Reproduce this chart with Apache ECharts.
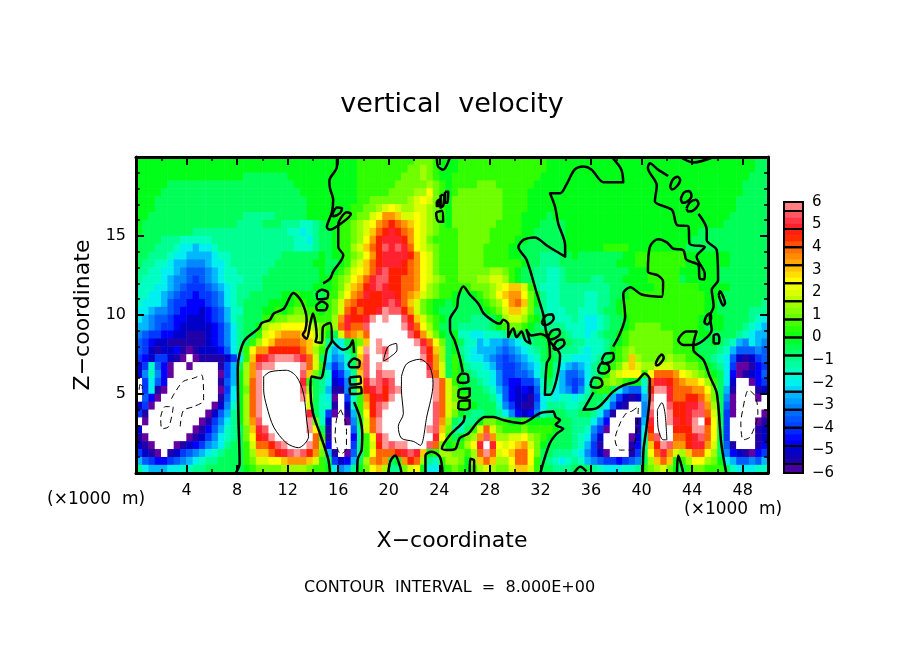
<!DOCTYPE html>
<html><head><meta charset="utf-8">
<style>html,body{margin:0;padding:0;background:#fff}#c{width:904px;height:654px}</style>
<script src="https://cdn.jsdelivr.net/npm/echarts@6/dist/echarts.min.js"></script>
</head><body><div id="c"></div>
<script>
// Field values, coded per cell (0.5 x 0.5 km), top row first.
// m..a = -7(white),-6,-5.5 ... -0.5 ; 0 ; A..M = 0.5 ... 6, 7(white)
const fieldRows = [
"0000000000 0000000000 0000000000 00000AAAAA AAAABBBA00 0AAAAAAAAA AAAAA00000 0000000000 0000000000 00000000aa",
"0000000000 0000000000 0000000000 00000AAAAA AAABBCBA00 0AAAAAAAAA AAAAA00000 0000000000 0000000000 00000000aa",
"0000000000 0000000aaa aaaa000000 00000AAAAA AABBBCBA00 AAAAAAAAAA AAAA000000 0000000000 0000000000 0000000aaa",
"00000aaaaa aaaaaaaaaa aaaaa00000 00000AAAAA ABBBBBCBA0 AAAABBBAAA AAA0000000 0000000000 0000000000 000000aaaa",
"0000aaaaaa aaaaaaaaaa aaaaaa0000 00000AAAAA BBBBCCEBA0 ABBBBBBBAA AA00000000 0000000000 0000000000 000000aaaa",
"000aaaaaaa aaaaaaaaaa aaaaaaa000 00000AABBB BBBCDEDBA0 BBBBBBBBAA AA00000000 0000000000 0000000000 00000aaaaa",
"000aaaaaaa aaaaaaaaaa aaaaaaa000 0000AABBCD EDCCDDCBA0 BBBBBBBBAA AA00000000 0000000000 0000000000 00000aaaaa",
"00aaaaaaaa aaaaaaabbb bbaaaaa000 00AAABBDEG GFDDEDCBA0 BBBBBBBBAA A0000a0000 0000000000 0000000000 0000aaaaaa",
"0aaaaaaaaa aaaaaabbbb aaabbbccba 00AABCDEGH IHGFEDCBA0 BBBBBBBAAA A000aaaa00 0000000000 0000000000 000aaaaaaa",
"0aaaaaaaab bbbbbbbbbb bbbbccdcba a0AABCDFHI JIHGEDCBAA ABBBBBAAAA A00aaaaa00 0000000000 000000000a aaaaaaaaaa",
"aaaabbbccc ccbbbbbbbb bbbbbccdba a0AABCEGIJ JJIGEDBAAA ABBBBBAAAA 00aaaaaa00 0000000000 00000000aa aaaaaaaaaa",
"aaabbbcdde ddcbbbbbbb bbbbbcccba a0AACDFHIK JKJHEDCBAA ABBBBAAAA0 0aaaaaaa00 0000AAAA00 0000000aaa aaaaaaaaaa",
"aabbbcddee eedccbbbbb bbbaaaaaa0 a00ABCEGIJ JJJIGEDBAA ABBBBAAAA0 0aaabbbaa0 aaaaaaa00A AAAAAAA000 0000aaaaaa",
"abbccdeeff feddcbbbbb bbaaaaaa00 aa0ACDFHIJ JJIHGEDBAA ABBBBAAAAA A0aabbbaaa aaaaaa000A AAAAAAA000 0000aaaaaa",
"bbccddefgg gfedccbbbb baaaaaaaa0 a0ABDEFHJK IIIHGEDBAA ABBBBBCCBA 0aabbccbaa aaaaaaaa00 0AAAAA0000 00aaaaaaaa",
"bcccdeffgh gfedcccbbb aaaaaaaaa0 0ABCEFHJKK IIHHGEDCBA ABBBCCDDCA 0aabbccbaa aabbaaa000 0AAAAAa000 00aaaaaaaa",
"cccddefghh hgfedcbbbb aaaaaaaa00 0ABDFGIJKJ IIHHGECBAA AAABBBCDEF FDAbcccbbb bbbbbaaa00 00AAAAAAA0 0000aaaaaa",
"ccddefghhi hhgfdcbbaa aaa00A00aa AACEGHJIIJ JIHGFDCBAA 0aa0ABCEFG GEB0bccbbb bccbbaa0AA AAAAAAAAAA 000aaaaaaa",
"cdddeghhii ihgfdcbaaa a0000AA000 ABDGHIIIIJ KJHFDBA00a 0aaa0ABCEG HFB0bccbbb bccbba0AAA AAAAAAAAAA 00aaaaaaab",
"ddeffghiii jihgeccaaa 00A0ABBAA0 ABDHIHIIJL KKIGDBA0aa aaaaa0ABDF FDBabcccbb cccbaa0AAA AAAAAAAAAA 00aaaaabbb",
"defgghiijj jihgecbaaa AABBCCCBAA ACGJIIJLML MMKIFDBA0a aaabbba0CD DCA0abcccb cddcbaa0AA AAAAAAAAA0 000aaaabcd",
"eefghhijjj jjihfdbaa0 CDDEEEEDCB ACHJHHKMMM MMLJHECAaa abbbbba0AB BA0abbbbcc cddcbaa0AB BBBAAAAAA0 a00aaabcde",
"fghhiijjkk kjihfdbaaA DEFGGGFEDB 0aDHGFHMMM MMMKIGDB0a 0ccddcccba aaaa00aabc cdcbaa0ABB BBBBBAAAA0 0aaaabcdee",
"ghijjkkkkk kjihfdbaAC EFHHHHGFDB bcdaABFMLM MMMMLJHEBa 0accedeefe dcbaa0aaab bcccba0ABB BBBBBAAA0a a0abcefdef",
"ghjkjjiklk jjjigdbAEG GIIIIIHFCA cedb0ELMLK MMMMMKIFCa 0bcdeeefgf edcba0abbb cdccb0ABCB BBBBBAAA0a aabcegggfg",
"hijhhjklMl kkkkjhdAFI JKLLLKJHDa dfecaFKMML MMMMMLIGCa Aacddefghg fedca0accd ddcba0ABFC BBBBCBBAA0 abcdgjkjhg",
"jhcgilMMlM MMMkheaCGK LLMMMMLHDA ehfdaGKMLM MMMMMMJGDa A0bccdeghh gfedb0bdef edba0ABDFD CCDDDCCBBA 0abdhllkih",
"jfcfilMMMM MMMlhe0CGL MMMMMMKFBa cihebFKMKL LMMMMMKHDa A0abccdfhh ggfdb0begg fdbaACDEEE AEHHHGEDCB A0adilkjig",
"MhdgiMMMMM MMMkge0CHL MMMMMMJAab djifbEJLKJ KMMMMMMLHD A0aabcdfhi ihhfcacegh gdaABCBA00 cHJJIHGFFE CAadjMMlih",
"MhdklMMMMM MMMlhd0BHL MMMMMMKCab ekkfbCIJKI KLMMMMMLHD B00aabcegi jijgcbdefh fc0AAadfgg dILLJHHHGG EBaekMMMkj",
"MgilMMMMMM MMMkgd0CHL MMMMMMLEac dlMhcAGIJI LMMMMMMLHD BAAaaabdgi jjkhdcdccd cbaabehjkj eKMMJHHIIH FBaflMMMlM",
"jhlMMMMMMM MMljfc0CHL MMMMMMMDac ckMjcAFIKL MMMMMMMKHD CAA0aaacfh jkkgdbbbcc baabdgjkMM fLMMKIIJJK GCaglMMMMM",
"hkMMMMMMMM Mljgeb0CHL MMMMMMMJac hlMkeAEIKM MMMMMMMKHD B0abbaabdf ijifcbaabb aabdgkMMMM fKMMLIIJKK HDahlMMMMl",
"MlMMMMMMMM lkhfdb0CGK MMMMMMMLBc jMMlfaDHLM MMMMMMMKGC abbb0BBAA0 0A00000aab bbdfiMMMMk eJMMLJIJLM IEahMMMMlk",
"jMMMMMMMMl kigecbaBFJ KMMMMMMLEa kMMMgbDHLM MMMMMMLKFB bcaADHDBAA ABAAAA0aab bcfhlMMMMk dIMMMIIILL HEahMMMMkj",
"klMMMMMMlk jhfdcbaBEI JLMMMMMMHA kMMMibAEJL MMMMMMMJEA a0BCGKGCCD DECBA0aaab cdgjMMMMlj cHKMMHHIJK HEahMMMMkj",
"jklMMMlkji hfedbaaADH HIKLMMMLHC iMMMhbADIL KLLMMMKHB0 AACEJMJEDE FGDB0aaaab cehkMMMMki bFILKGGIJJ GDagkMMMki",
"hjklMkjhgf edcbaaaACF FHIJKLKIGB ekMlgbAEHH HIJKJF0ACC BBACHLHDEF HHEBaabbbc dfhjlMMMkh aEHJGDCFHH ECafijklih",
"eghiihgfed cbbaaaaABD DEEFGGGFDA ahjieaCGHG a0GIHCbcAC CB0CFHFCCE HHEAabcdcb cefghhihgf aCFHF0ACEE CB0deggfge",
"bdeeeddccb baaaaaa0AB BBBCCCCBAA 0dfeb0BEFC bbBDE0dd0A BA0ACDCBBD FFDAaabbba aabcdddccb ABCDB0aABB AAAacdddcc"
];
const cellCodes = "lkjihgfedcba0ABCDEFGHIJKL"; // -6 ... 6 in half units
const colorStops = ["#ffffff","#ffffff","#6400a0","#2000a8","#0000c8","#0000ff","#0038ff","#005cff","#0088ff","#00b8ff","#00f0f0","#00ffc0","#00ff90","#00ff58","#00ff18","#30ff00","#70ff00","#a0ff00","#d8ff00","#ffff00","#ffc800","#ff9600","#ff6400","#ff1e00","#ff2030","#ff5a64","#ff9696","#ffffff","#ffffff"];
const colorbarEdges = [-6,-5.6,-4.8,-4,-3.2,-2.4,-1.6,-0.8,0,0.8,1.6,2.4,3.2,4,4.8,5.6,6];
const xTickLabels = [4,8,12,16,20,24,28,32,36,40,44,48];
const zTickLabels = [5,10,15];

// Zero contour (x km, z km)
const zeroContours = [
[[15.9,20],[15.9,19.4],[15.3,18.5],[15.35,18],[15.6,17.3],[15.5,16.5],[15.1,15.55],[15.35,15.4],[16.4,15.9],[17,16.4],[16.7,16.5],[16,15.7],[16,14.3],[16.4,13.8],[15.6,12.75],[15.35,12.3],[14.8,12]],
[[15.5,16.3],[15.9,16.8],[16.3,16.75],[16.15,16.45],[15.6,16.25],[15.5,16.3]],
[[14.3,11.4],[14.7,11.6],[15.2,11.4],[15.1,11.05],[14.4,11],[14.3,11.4]],
[[14.25,10.6],[14.7,10.85],[15.15,10.6],[14.95,10.3],[14.35,10.3],[14.25,10.6]],
[[7.9,0],[8.2,0.6],[8.1,3.6],[8.05,6.7],[8.2,7.55],[8.6,8.4],[9.7,9.15],[9.95,9.5],[10.6,9.7],[10.9,10.1],[11.7,10.4],[12.45,11.4],[13.1,10.85],[13.5,9.7],[13.4,9.05],[13.2,8.75],[13.5,8.5],[13.8,9.5],[14,10.1],[14.2,9.5],[14.3,8.65],[14.2,8.3],[14.7,8.25],[14.8,9.25],[15.35,9.5],[15.5,8.4],[15.1,7.8],[14.95,7.05],[14.6,6],[13.9,6.1],[13.8,5.25],[14,3.8],[14.55,2.5],[15.2,0.9],[15.35,0]],
[[15.5,8.4],[16.4,7.8],[16.9,8],[17.15,8.4],[17.25,7.6]],
[[16.8,6.9],[17.25,7.25],[17.7,7.05],[17.6,6.7],[16.95,6.7],[16.8,6.9]],
[[16.9,6.05],[17.7,6.1],[17.8,5.7],[16.95,5.6],[16.9,6.05]],
[[16.9,5.4],[17.8,5.45],[17.85,5.05],[16.95,5],[16.9,5.4]],
[[17.25,4.5],[17.7,3.55],[17.9,2.5],[17.85,1.45],[17.55,0.9],[17.5,0]],
[[19.95,0],[20.15,0.8],[20.5,1.1],[20.9,0.4],[21,0]],
[[22.9,0],[22.9,1.1],[23.4,1.35],[24.05,1],[24.25,0]],
[[26,3.65],[25.9,3.25],[24.84,2.4],[24.2,1.55],[24.84,1.45],[25.3,1.55],[25.6,2.2],[26.3,2.5],[26.95,3.15],[27.6,3.55],[28.3,3.55],[29.05,3.35],[30.5,3.15],[32,3.8],[33,3.9],[33.2,3.55],[33.55,3.35],[33.2,3.05],[33.8,2.8],[33.3,2.5],[32.75,1.9],[32.2,0.6],[32,0]],
[[26.4,0],[26.45,0.9],[26.75,0.8],[26.75,0]],
[[34.65,0],[35.15,0.4],[35.65,0.1]],
[[23.8,20],[23.9,19.4],[24.3,19.2],[24.85,20]],
[[23.8,17.2],[24,17.3],[24,16.9],[23.8,16.9],[23.8,17.2]],
[[24.1,17.6],[24.4,17.6],[24.3,16.9],[24.1,16.8],[24.1,17.6]],
[[24.45,17.8],[24.7,17.8],[24.65,17.1],[24.45,17.1],[24.45,17.8]],
[[23.75,16.5],[24.2,16.6],[24.3,15.9],[24,15.9],[23.8,16.1],[23.75,16.5]],
[[25.85,6.4],[25.6,7.35],[25.2,8.4],[24.85,9],[24.84,9.7],[25.4,10.5],[25.5,11.15],[25.9,11.8],[26.4,11.3],[27.1,10.7],[27.5,10.1],[28.3,9.6],[28.8,9.45],[29.05,9.7],[29.45,9.4],[29.45,8.6],[29.85,9.15],[30.1,8.6],[30.5,8.95],[30.8,8.4],[31.2,8.2],[30.9,9.05],[31.3,8.7],[32,8.8],[32.6,8.5],[32.75,7.35],[32.5,6.95],[32.35,4.95],[32.75,4.95],[33.55,7.45],[32.6,8.5],[32.2,10.1],[31.7,11.4],[30.9,13.5],[30.25,14.3],[30.65,14.75],[31.55,14.9],[32.5,14.4],[33.3,14],[33.95,13.7],[33.95,14.4],[33.4,15.8],[33.15,16.85],[32.75,17.7],[33.55,17.7],[34.05,18.25],[34.7,19.2],[35.4,19.4],[36.05,19.2],[37,18.4],[38.55,18.4],[38.4,19.2],[37.75,19.9]],
[[32.1,9.5],[32.4,9.95],[32.9,10.05],[33.05,9.8],[32.7,9.45],[32.3,9.35],[32.1,9.5]],
[[32.6,8.6],[32.9,9],[33.4,9.1],[33.55,8.85],[33.2,8.55],[32.8,8.45],[32.6,8.6]],
[[33,7.95],[33.3,8.35],[33.75,8.45],[33.9,8.2],[33.55,7.9],[33.15,7.8],[33,7.95]],
[[25.45,6],[25.8,6.3],[26.25,6.2],[26.3,5.8],[25.9,5.7],[25.5,5.75],[25.45,6]],
[[25.5,4.8],[25.55,5.25],[26.4,5.35],[26.4,4.9],[26,4.75],[25.5,4.8]],
[[25.5,4.05],[25.55,4.5],[26.4,4.6],[26.4,4.15],[26,4],[25.5,4.05]],
[[36.85,7.15],[37.15,7.55],[37.7,7.6],[37.8,7.3],[37.45,7],[37,6.95],[36.85,7.15]],
[[36.55,6.55],[36.85,6.95],[37.35,6.85],[37.45,6.55],[37.05,6.3],[36.65,6.35],[36.55,6.55]],
[[35.95,5.65],[36.25,6.05],[36.75,5.95],[36.9,5.6],[36.5,5.4],[36.05,5.45],[35.95,5.65]],
[[36.2,5.1],[35.4,4],[36.45,4.1],[37.75,5.15],[38.55,5.55],[39.6,5.8],[40.25,6.3],[40.65,5.9],[40.65,5.05],[40.4,2.95],[40.15,1.45],[40.1,0]],
[[37.75,8],[38.3,8.85],[38.7,9.9],[38.55,11.35],[39.1,11.75],[40,11.3],[41.6,11.15],[41.7,12.1],[41.3,12.5],[40.5,12.75],[40.65,14.3],[41.3,14.8],[42,14.6],[42.5,14.2],[43.3,14.1],[43.55,13.5],[44.5,13.15],[44.6,12.3],[44.95,12.25],[45,12.6],[44.35,13.7],[45,14.3],[43.8,14.5],[43.7,15.6],[42.8,15.7],[42.4,16.65],[41.05,17.2],[41.2,18.2],[40.5,19.3],[40.65,19.6],[41.3,19.2],[42.1,18.8]],
[[42.25,18.1],[42.45,18.55],[42.85,18.75],[43.05,18.55],[42.8,18.15],[42.4,17.95],[42.25,18.1]],
[[43.1,17.35],[43.35,17.75],[43.75,17.85],[43.95,17.55],[43.65,17.2],[43.25,17.1],[43.1,17.35]],
[[43.55,16.75],[43.85,17.15],[44.3,17.3],[44.5,17.05],[44.15,16.65],[43.7,16.55],[43.55,16.75]],
[[44.5,16.4],[45.15,15.4],[45.15,14.75],[45.95,14.1],[46.05,12.2],[45.55,11.6],[45.7,10.55],[45.4,9.9],[45.55,9.05],[44.9,8.4],[44.1,8.1],[43.3,8.1],[42.9,8.4],[43.55,8.95],[44.35,8.95],[44.1,8.1],[44.1,7.8],[44.9,7.15],[45.4,6.1],[45.95,5.05],[46.3,1.9],[46.7,0]],
[[46.1,11.25],[46.2,11.5],[46.35,11.35],[46.6,10.75],[46.45,10.6],[46.25,10.9],[46.1,11.25]],
[[44.95,9.5],[45.1,9.9],[45.4,10.1],[45.5,9.8],[45.2,9.4],[44.95,9.5]],
[[45.7,8.2],[45.7,8.7],[46,8.8],[46.15,8.5],[46.1,8.2],[45.7,8.2]],
[[41.1,6.9],[41.3,7.25],[41.6,7.5],[41.75,7.3],[41.5,6.95],[41.2,6.8],[41.1,6.9]],
[[43.05,20],[44.1,19.65],[45.7,20]],
[[42.8,0],[42.9,1.1],[43.3,0]]
];
// +8 contours
const positiveContours = [
[[10.1,6.1],[10.6,6.4],[11.9,6.5],[12.7,6.1],[13.25,5.05],[13.5,3.35],[13.65,2.3],[12.85,1.6],[11.9,1.9],[10.9,2.9],[10.35,4.2],[10.1,5.25],[10.1,6.1]],
[[21,6.1],[21.4,6.9],[22.45,7.2],[23.25,6.7],[23.5,5.65],[23,3.55],[22.5,1.75],[21.95,2],[21,2.2],[20.75,2.95],[21.15,3.75],[21,5.25],[21,6.1]],
[[19.6,7.2],[19.95,8],[20.6,8.2],[20.65,7.8],[19.95,7.25],[19.6,7.1],[19.6,7.2]],
[[41.25,4],[41.6,4.45],[41.85,3.8],[42,2.1],[41.7,2.1],[41.3,2.9],[41.25,4]]
];
// -8 contours
const negativeContours = [
[[1.95,3.55],[2.3,4.2],[2.95,4.2],[2.6,2.95],[2.05,2.8],[1.95,3.55]],
[[2.8,4.7],[3.2,5.25],[3.75,5.8],[4.55,6],[5.2,6.2],[5.35,4.6],[4.55,4.2],[3.75,3.95],[3.5,2.95]],
[[0.3,5.6],[0.5,5.5],[0.45,5.2],[0.25,5.3],[0.3,5.6]],
[[16.2,4],[16.65,2.9],[16.65,1.55],[16.2,1.2],[15.75,2.3],[15.9,3.55],[16.2,4]],
[[39.2,3.9],[39.75,4.2],[39.6,2.7],[39.2,1.45],[38.3,1.45],[37.9,2.1],[38.3,3.15],[38.8,3.8],[39.2,3.9]],
[[48.05,4.2],[48.45,5.25],[49,4.85],[49.2,3.8],[48.6,2.3],[48.05,2.1],[47.85,3.15],[48.05,4.2]]
];

const rows = fieldRows.map(r => r.replace(/ /g,''));
const nRows = rows.length, nCols = 100;
const cells = [];
rows.forEach((r,ri) => { for (let i=0;i<nCols;i++){ const ch=r[i]||'0'; const v = ch==='m'?-7 : ch==='M'?7 : (cellCodes.indexOf(ch)-12)/2; cells.push([i,nRows-1-ri,v]); } });

function mix(v){ const p=(v+7)*2, i=Math.floor(p), t=p-i; const h=s=>[1,3,5].map(k=>parseInt(s.substr(k,2),16));
  const a=h(colorStops[i]), b=h(colorStops[Math.min(i+1,28)]); return 'rgb('+a.map((c,k)=>Math.round(c+(b[k]-c)*t)).join(',')+')'; }
const barShades=[];
for(let e=0;e<colorbarEdges.length-1;e++){ const lo=colorbarEdges[e],hi=colorbarEdges[e+1],n=hi-lo<0.5?1:3;
  for(let s=0;s<n;s++){ const a=lo+(hi-lo)*s/n,b=lo+(hi-lo)*(s+1)/n; barShades.push([a,b,mix((a+b)/2)]); } }
const barSegs=colorbarEdges.slice(0,-1).map((v,i)=>[v,colorbarEdges[i+1]]);

const FONT='"DejaVu Sans"';
const lineSeries=(list,width,type)=>list.map(d=>({type:'line',xAxisIndex:1,yAxisIndex:1,data:d,symbol:'none',smooth:0.3,silent:true,animation:false,z:5,
  lineStyle:{color:'#000',width:width,type:type,join:'round'}}));
const frame={lineStyle:{color:'#000',width:3}};
const tick={show:true,inside:true,length:8,lineStyle:{color:'#000',width:2}};
const minor=n=>({show:true,splitNumber:n,length:4,lineStyle:{color:'#000',width:1.5}});
const chart=echarts.init(document.getElementById('c'),null,{renderer:'canvas'});
chart.setOption({
  backgroundColor:'#fff',animation:false,
  title:{text:'vertical  velocity',left:447,top:86,textAlign:'center',textStyle:{fontFamily:FONT,fontWeight:'normal',fontSize:27,color:'#000'}},
  grid:[{left:136,top:157,width:632,height:316},{left:784,top:202,width:19,height:271}],
  visualMap:{show:false,type:'continuous',min:-7,max:7,dimension:2,seriesIndex:0,inRange:{color:colorStops}},
  xAxis:[
    {type:'category',gridIndex:0,show:false,data:Array.from({length:nCols},(_,i)=>i)},
    {type:'value',gridIndex:0,min:0,max:50,interval:4,position:'bottom',z:10,axisLine:{onZero:false,...frame},axisTick:tick,minorTick:minor(2),splitLine:{show:false},
     axisLabel:{margin:10,color:'#000',fontFamily:FONT,fontSize:16,formatter:v=>xTickLabels.includes(v)?String(v):''},
     name:'X\u2212coordinate',nameLocation:'middle',nameGap:57,nameTextStyle:{fontFamily:FONT,fontSize:22,color:'#000'}},
    {type:'value',gridIndex:0,min:0,max:50,interval:4,position:'top',z:10,axisLine:{onZero:false,...frame},axisTick:tick,minorTick:minor(2),splitLine:{show:false},axisLabel:{show:false}},
    {type:'value',gridIndex:1,min:0,max:1,show:false}
  ],
  yAxis:[
    {type:'category',gridIndex:0,show:false,data:Array.from({length:nRows},(_,i)=>i)},
    {type:'value',gridIndex:0,min:0,max:20,interval:5,position:'left',z:10,axisLine:{onZero:false,...frame},axisTick:tick,minorTick:minor(5),splitLine:{show:false},
     axisLabel:{margin:10,color:'#000',fontFamily:FONT,fontSize:16,formatter:v=>zTickLabels.includes(v)?String(v):''},
     name:'Z\u2212coordinate',nameLocation:'middle',nameGap:41,nameRotate:90,nameTextStyle:{fontFamily:FONT,fontSize:22,color:'#000'}},
    {type:'value',gridIndex:0,min:0,max:20,interval:5,position:'right',z:10,axisLine:{onZero:false,...frame},axisTick:tick,minorTick:minor(5),splitLine:{show:false},axisLabel:{show:false}},
    {type:'value',gridIndex:1,min:-6,max:6,interval:1,position:'right',axisLine:{show:false},axisTick:{show:false},splitLine:{show:false},
     axisLabel:{margin:9,color:'#000',fontFamily:FONT,fontSize:15,formatter:v=>String(v).replace('-','\u2212')}}
  ],
  graphic:[
    {type:'text',left:47,top:491,style:{text:'(\u00d71000  m)',fontFamily:FONT,fontSize:17,fill:'#000'}},
    {type:'text',left:684,top:501,style:{text:'(\u00d71000  m)',fontFamily:FONT,fontSize:17,fill:'#000'}},
    {type:'text',left:304,top:580,style:{text:'CONTOUR  INTERVAL  =  8.000E+00',fontFamily:FONT,fontSize:16,fill:'#000'}}
  ],
  series:[
    {type:'heatmap',xAxisIndex:0,yAxisIndex:0,data:cells,progressive:0,silent:true,animation:false,z:1,emphasis:{disabled:true}},
    ...lineSeries(zeroContours,2.5,'solid'),
    ...lineSeries(positiveContours,1,'solid'),
    ...lineSeries(negativeContours,1,[6,4]),
    {type:'custom',xAxisIndex:3,yAxisIndex:3,data:barShades,silent:true,z:2,animation:false,encode:{x:[],y:[0,1]},
     renderItem:(p,api)=>{const a=api.coord([0,barShades[p.dataIndex][0]]),b=api.coord([1,barShades[p.dataIndex][1]]);
       return {type:'rect',shape:{x:a[0],y:b[1],width:b[0]-a[0],height:a[1]-b[1]+0.5},style:{fill:barShades[p.dataIndex][2]}};}},
    {type:'custom',xAxisIndex:3,yAxisIndex:3,data:barSegs,silent:true,z:3,animation:false,encode:{x:[],y:[0,1]},
     renderItem:(p,api)=>{const a=api.coord([0,barSegs[p.dataIndex][0]]),b=api.coord([1,barSegs[p.dataIndex][1]]);
       return {type:'rect',shape:{x:a[0],y:b[1],width:b[0]-a[0],height:a[1]-b[1]},style:{fill:'none',stroke:'#000',lineWidth:2}};}}
  ]
});
</script></body></html>
